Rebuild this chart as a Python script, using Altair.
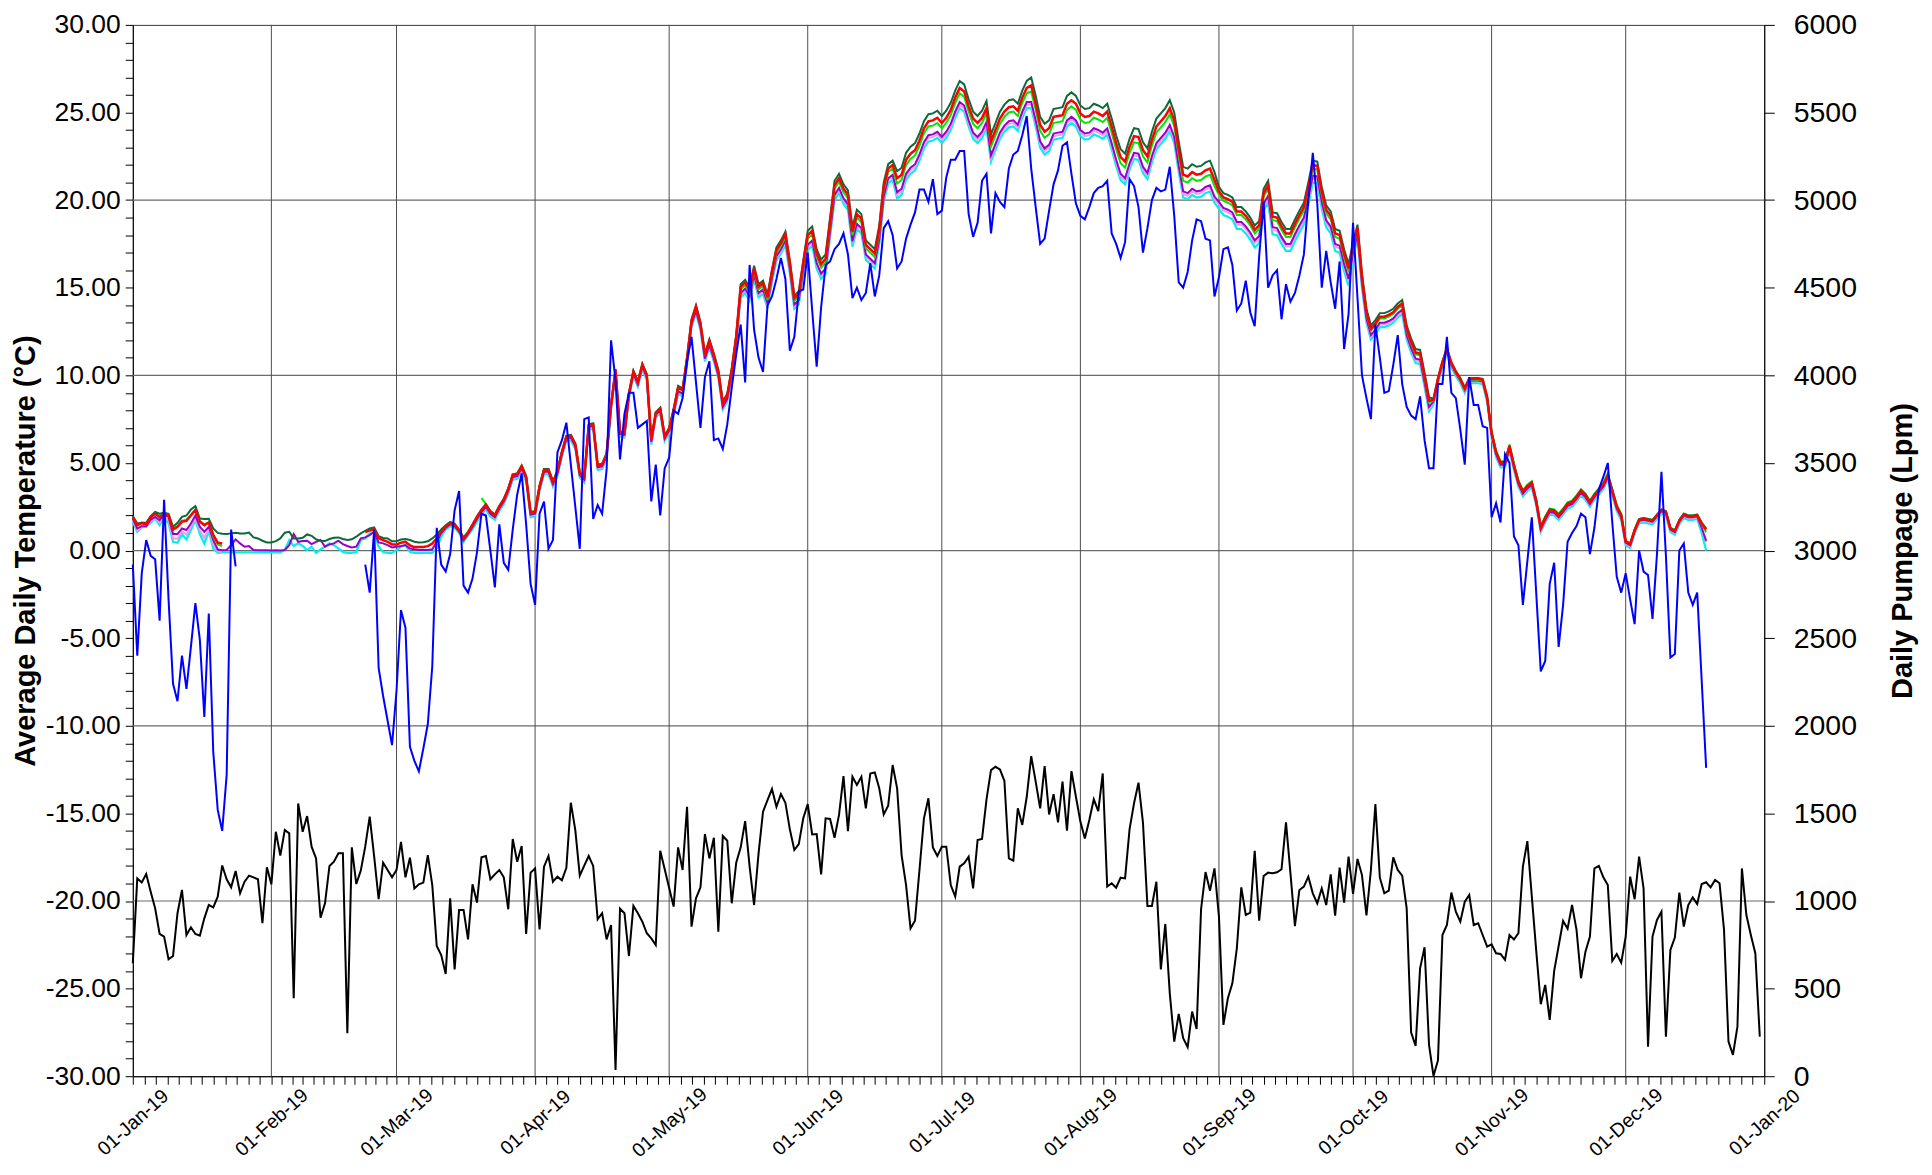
import altair as alt
import pandas as pd

DAYS = pd.date_range("2019-01-01", periods=365, freq="D")
MONTH_STARTS = pd.date_range("2019-02-01", periods=11, freq="MS")
GRID_T = [-20, -10, 0, 10, 20]

# ---------------- Air temperature (blue), d0..d352 ----------------
BLUE = [
    -0.8, -6.0, -1.3, 0.6, -0.3, -0.5, -4.0, 2.9, -2.8, -7.6, -8.6, -6.0, -7.9, -5.5, -3.0, -5.1,
    -9.5, -3.6, -11.5, -14.8, -16.0, -12.8, 1.2, -0.9,
] + [None] * 28 + [
    -0.8, -2.4, 1.2, -6.7, -8.3, -9.7, -11.1, -8.0, -3.4, -4.4, -11.2, -12.0, -12.6, -11.3, -9.9, -6.6,
    1.3, -0.8, -1.2, -0.2, 2.3, 3.4, -2.0, -2.4, -1.6, -0.1, 2.1, 2.0, 0.0, -2.1, 1.5, -0.7,
    -1.1, 1.2, 3.2, 4.4, 1.5, -1.9, -3.1, 2.1, 2.8, 0.1, 0.6, 5.6, 6.3, 7.3, 4.9, 2.5,
    0.1, 7.5, 7.6, 1.8, 2.6, 2.1, 4.6, 12.0, 9.7, 5.2,
    7.8, 9.0, 9.0, 7.0, 7.2, 7.4, 2.8, 4.9, 2.0, 4.7,
    5.3, 8.0, 7.8, 8.7, 10.8, 12.2, 9.6, 7.0, 9.9, 10.8,
    6.3, 6.4, 5.8, 7.2, 9.3, 11.2, 12.9, 9.6, 16.3, 12.6,
    11.0, 10.2, 14.0, 14.5, 15.5, 16.7, 15.5, 11.4, 12.2, 14.8,
    14.9, 17.0, 13.7, 10.5, 13.9, 16.3, 16.5, 17.2, 17.5, 18.1,
    16.9, 14.4, 15.0, 14.3, 14.7, 16.4, 14.5, 15.7, 18.4, 18.8,
    18.0, 16.1, 16.5, 17.8, 18.6, 19.3, 20.6, 20.6, 19.9, 21.2,
    19.2, 19.4, 21.3, 22.3, 22.3, 22.8, 22.8, 19.2, 17.9, 18.7,
    21.1, 21.5, 18.1, 20.4, 19.9, 19.6, 21.8, 22.6, 22.8, 23.7,
    24.8, 21.8, 19.6, 17.5, 17.8, 19.4, 20.9, 21.7, 23.1, 23.3,
    21.5, 19.8, 19.1, 18.9, 19.6, 20.4, 20.7, 20.8, 21.1, 18.1,
    17.5, 16.7, 17.6, 21.2, 20.8, 19.6, 17.0, 18.4, 20.0, 20.7,
    20.5, 20.6, 21.9, 19.1, 15.3, 15.0, 15.9, 17.7, 18.9, 18.8,
    17.8, 17.7, 14.5, 15.6, 17.2, 17.3, 16.3, 13.7, 14.1, 15.4,
    13.6, 12.8, 16.8, 19.9, 15.0, 15.7, 16.0, 13.2, 15.2, 14.2,
    14.7, 15.7, 16.9, 20.0, 22.7, 19.8, 15.0, 17.1, 15.3, 13.8,
    16.5, 11.5, 13.5, 18.7, 14.4, 10.0, 8.7, 7.5, 12.9, 11.0,
    9.0, 9.1, 10.6, 12.3, 9.5, 8.2, 7.7, 7.5, 8.8, 6.3,
    4.7, 4.7, 9.5, 9.5, 12.2, 9.0, 8.7, 6.9, 4.9, 9.9,
    8.3, 8.3, 7.1, 7.0, 1.9, 2.7, 1.6, 5.5, 5.0, 0.8,
    0.3, -3.1, -0.6, 1.9, -2.5, -6.9, -6.3, -1.9, -0.7, -5.5,
    -3.1, 0.5, 1.0, 1.4, 2.1, 1.9, -0.2, 1.3, 3.5, 4.2,
    5.0, 1.6, -1.5, -2.4, -1.3, -2.8, -4.2, 0.0, -1.2, -1.4,
    -3.9, -0.2, 4.5, -0.3, -6.1, -5.9, 0.0, 0.4, -2.4, -3.1,
    -2.4, -7.4, -12.4,
]

# ---------------- Water temperature series ----------------
RED = [
    1.9, 1.45, 1.55, 1.5, 1.9, 2.1, 1.9, 2.1, 2.0, 1.2, 1.35, 1.65, 1.7, 2.0, 2.3, 1.65, 1.45, 1.6, 0.9, 0.45, 0.4,
] + [None] * 31 + [
    1.05, 1.15, 1.2, 0.7, 0.6, 0.5, 0.35, 0.35, 0.45, 0.5, 0.3, 0.2, 0.2, 0.2, 0.25, 0.4, 0.7, 1.05, 1.35, 1.55,
    1.45, 1.15, 0.65, 1.0,
    1.45, 1.9, 2.3, 2.6, 2.2, 2.0, 2.5, 2.9, 3.5, 4.3, 4.35, 4.8, 4.2, 2.15, 2.2, 3.65, 4.6, 4.6, 3.9, 4.5,
    5.6, 6.5, 6.55, 6.05, 4.4, 4.15, 7.15, 7.2, 4.85, 4.9, 5.5, 8.3, 10.3, 6.75, 6.7, 8.95, 10.2, 9.6, 10.6, 10.0,
    6.3, 7.85, 8.1, 6.5, 6.95,
    8.0, 9.3, 9.15, 10.95, 13.1, 13.9, 12.95, 11.15, 11.95, 11.15, 10.2, 8.4, 8.85, 10.3, 12.2,
    15.05, 15.3, 14.85, 16.1, 15.05, 15.25, 14.45, 15.9, 17.15, 17.55, 18.05, 16.4, 14.4, 14.65, 16.4,
    18.0, 18.25, 16.95, 16.35, 16.65, 18.75, 20.85, 21.25, 20.65, 20.3, 18.2, 19.2, 18.95, 17.45, 17.2, 16.95,
    18.3, 20.75, 21.8, 22.0,
    21.25, 21.45, 22.3, 22.65, 22.85, 23.4, 24.1, 24.5, 24.55, 24.7, 24.4, 24.7, 25.15, 25.85, 26.4, 26.2,
    25.35, 24.65, 24.4, 24.7, 25.25, 23.35, 24.0, 24.65, 25.05, 25.3, 25.35, 25.1, 25.85, 26.4,
    26.55, 25.5, 24.3, 23.9, 24.1, 24.75, 24.8, 24.85, 25.5, 25.7, 25.5, 24.95, 24.75, 24.8, 25.05, 24.95,
    24.8, 25.05, 24.2, 23.25, 22.45, 22.2, 23.05, 23.65, 23.6, 22.85, 22.5, 23.45, 24.2, 24.5, 24.8, 25.25,
    24.55, 22.9, 21.45, 21.35, 21.6, 21.45, 21.5, 21.7, 21.8, 21.15,
    20.5, 20.15, 20.05, 19.9, 19.35, 19.35, 19.1, 18.75, 18.3, 18.55, 20.4, 20.85, 19.05, 19.0, 18.5, 18.1,
    18.1, 18.65, 19.15, 19.6, 20.75, 22.0, 21.95, 20.5, 19.45, 19.1, 18.1, 18.0, 16.95, 16.1,
    17.35, 18.4, 15.6, 13.6, 12.65, 12.95, 13.35, 13.35, 13.45, 13.6, 13.9, 14.1, 12.65, 11.9, 11.3, 11.25,
    9.95, 8.55,
    8.6, 9.8, 10.75, 11.5, 10.7, 10.2, 9.8, 9.25, 9.8, 9.8, 9.8, 9.75, 8.75,
    6.7, 5.6, 5.0, 5.0, 5.95, 4.85, 3.9, 3.35, 3.65, 3.85, 2.8, 1.3, 1.85, 2.3, 2.25, 2.0, 2.3, 2.65, 2.75, 3.05,
    3.4, 3.15, 2.75, 3.15, 3.45, 3.75, 4.3, 3.4, 2.5, 2.0,
    0.5, 0.35, 1.15, 1.75, 1.8, 1.75, 1.7, 2.0, 2.3, 2.2, 1.25, 1.1, 1.7, 2.05, 1.95, 1.95, 2.0, 1.55, 1.2,
]

DKGREEN = [
    1.97, 1.54, 1.58, 1.58, 1.97, 2.2, 2.1, 2.15, 2.1, 1.36, 1.58, 1.92, 2.0, 2.34, 2.53, 1.83, 1.8, 1.81, 1.26, 1.01, 0.96,
    0.94, 0.98, 1.02, 0.98, 0.98, 1.03, 0.75, 0.69, 0.56, 0.46,
    0.46, 0.54, 0.69, 1.02, 1.07, 0.69, 0.69, 0.73, 0.92, 0.84,
    0.64, 0.56, 0.54, 0.66, 0.73, 0.75, 0.66, 0.6, 0.64, 0.79,
    0.98, 1.13, 1.26, 1.32, 0.82, 0.72, 0.69, 0.53, 0.53, 0.63,
    0.66, 0.6, 0.5, 0.46, 0.48, 0.53, 0.69, 0.91, 1.2, 1.45,
    1.64, 1.54, 1.2, 0.75, 1.07,
    1.5, 1.95, 2.35, 2.65, 2.25, 2.05, 2.55, 2.95, 3.55, 4.35, 4.4, 4.85, 4.25, 2.2, 2.25, 3.7, 4.65, 4.65, 3.95, 4.55,
    5.65, 6.55, 6.6, 6.1, 4.45, 4.2, 7.2, 7.25, 4.9, 4.95, 5.55, 8.35, 10.35, 6.8, 6.75, 9.0, 10.25, 9.65, 10.65, 10.05,
    6.35, 7.9, 8.15, 6.55, 7.0,
    8.1, 9.4, 9.25, 11.05, 13.2, 14.0, 13.05, 11.25, 12.05, 11.25, 10.3, 8.5, 8.95, 10.4, 12.3,
    15.2, 15.45, 15.0, 16.25, 15.2, 15.4, 14.6, 16.05, 17.3, 17.7, 18.2, 16.55, 14.55, 14.8, 16.55,
    18.25, 18.5, 17.2, 16.6, 16.9, 19.0, 21.1, 21.5, 20.9, 20.55, 18.45, 19.45, 19.2, 17.7, 17.45, 17.2,
    18.55, 21.0, 22.05, 22.25,
    21.65, 21.85, 22.7, 23.05, 23.25, 23.8, 24.5, 24.9, 24.95, 25.1, 24.8, 25.1, 25.55, 26.25, 26.8, 26.6,
    25.75, 25.05, 24.8, 25.1, 25.65, 23.75, 24.4, 25.05, 25.45, 25.7, 25.75, 25.5, 26.25, 26.8,
    27.0, 25.95, 24.75, 24.35, 24.55, 25.2, 25.25, 25.3, 25.95, 26.15, 25.95, 25.4, 25.2, 25.25, 25.5, 25.4,
    25.25, 25.5, 24.65, 23.7, 22.9, 22.65, 23.5, 24.1, 24.05, 23.3, 22.95, 23.9, 24.65, 24.95, 25.25, 25.7,
    25.0, 23.35, 21.9, 21.8, 22.05, 21.9, 21.95, 22.15, 22.25, 21.6,
    20.75, 20.4, 20.3, 20.15, 19.6, 19.6, 19.35, 19.0, 18.55, 18.8, 20.65, 21.1, 19.3, 19.25, 18.75, 18.35,
    18.35, 18.9, 19.4, 19.85, 21.0, 22.25, 22.2, 20.75, 19.7, 19.35, 18.35, 18.25, 17.2, 16.35,
    17.55, 18.6, 15.8, 13.8, 12.85, 13.15, 13.55, 13.55, 13.65, 13.8, 14.1, 14.3, 12.85, 12.1, 11.5, 11.45,
    10.15, 8.75,
    8.65, 9.85, 10.8, 11.55, 10.75, 10.25, 9.85, 9.3, 9.85, 9.85, 9.85, 9.8, 8.8,
    6.75, 5.65, 5.05, 5.05, 6.0, 4.9, 3.95, 3.4, 3.7, 3.9, 2.85, 1.35, 1.9, 2.35, 2.3, 2.05, 2.35, 2.7, 2.8, 3.1,
    3.45, 3.2, 2.8, 3.2, 3.5, 3.8, 4.35, 3.45, 2.55, 2.05,
    0.55, 0.4, 1.2, 1.8, 1.85, 1.8, 1.75, 2.05, 2.35, 2.25, 1.3, 1.15, 1.75, 2.1, 2.0, 2.0, 2.05, 1.6, 1.25,
]

LIME = [
    1.95, 1.5, 1.6, 1.55, 1.95, 2.15, 1.95, 2.15, 2.05, 1.25, 1.4, 1.7, 1.75, 2.05, 2.35, 1.7, 1.5, 1.6, 0.8, 0.35, 0.25,
] + [None] * 57 + [
    3.0, 2.65, 2.25, 2.05, 2.55, 2.95, 3.55, 4.35, 4.4, 4.85, 4.25, 2.2, 2.25, 3.7, 4.65, 4.65, 3.95, 4.55,
    5.65, 6.55, 6.6, 6.1, 4.45, 4.2, 7.2, 7.25, 4.9, 4.95, 5.55, 8.35, 10.35, 6.8, 6.75, 9.0, 10.25, 9.65, 10.65, 10.05,
    6.35, 7.9, 8.15, 6.55, 7.0,
    8.0, 9.3, 9.15, 10.95, 13.1, 13.9, 12.95, 11.15, 11.95, 11.15, 10.2, 8.4, 8.85, 10.3, 12.2,
    14.9, 15.15, 14.7, 15.95, 14.9, 15.1, 14.3, 15.75, 17.0, 17.4, 17.9, 16.25, 14.25, 14.5, 16.25,
    17.8, 18.05, 16.75, 16.15, 16.45, 18.55, 20.65, 21.05, 20.45, 20.1, 18.0, 19.0, 18.75, 17.25, 17.0, 16.75,
    18.1, 20.55, 21.6, 21.8,
    20.95, 21.15, 22.0, 22.35, 22.55, 23.1, 23.8, 24.2, 24.25, 24.4, 24.1, 24.4, 24.85, 25.55, 26.1, 25.9,
    25.05, 24.35, 24.1, 24.4, 24.95, 23.05, 23.7, 24.35, 24.75, 25.0, 25.05, 24.8, 25.55, 26.1,
    26.2, 25.15, 23.95, 23.55, 23.75, 24.4, 24.45, 24.5, 25.15, 25.35, 25.15, 24.6, 24.4, 24.45, 24.7, 24.6,
    24.45, 24.7, 23.85, 22.9, 22.1, 21.85, 22.7, 23.3, 23.25, 22.5, 22.15, 23.1, 23.85, 24.15, 24.45, 24.9,
    24.2, 22.55, 21.1, 21.0, 21.25, 21.1, 21.15, 21.35, 21.45, 20.8,
    20.3, 19.95, 19.85, 19.7, 19.15, 19.15, 18.9, 18.55, 18.1, 18.35, 20.2, 20.65, 18.85, 18.8, 18.3, 17.9,
    17.9, 18.45, 18.95, 19.4, 20.55, 21.8, 21.75, 20.3, 19.25, 18.9, 17.9, 17.8, 16.75, 15.9,
    17.25, 18.3, 15.5, 13.5, 12.55, 12.85, 13.25, 13.25, 13.35, 13.5, 13.8, 14.0, 12.55, 11.8, 11.2, 11.15,
    9.85, 8.45,
    8.55, 9.75, 10.7, 11.45, 10.65, 10.15, 9.75, 9.2, 9.75, 9.75, 9.75, 9.7, 8.7,
    6.8, 5.7, 5.1, 5.1, 6.05, 4.95, 4.0, 3.45, 3.75, 3.95, 2.9, 1.4, 1.95, 2.4, 2.35, 2.1, 2.4, 2.75, 2.85, 3.15,
    3.5, 3.25, 2.85, 3.25, 3.55, 3.85, 4.4, 3.5, 2.6, 2.1,
    0.55, 0.4, 1.2, 1.8, 1.85, 1.8, 1.75, 2.05, 2.35, 2.25, 1.3, 1.15, 1.75, 2.1, 2.0, 2.0, 2.05, 1.5, 1.05,
]

PURPLE = [
    1.83, 1.26, 1.39, 1.39, 1.77, 1.92, 1.73, 2.05, 1.92, 0.94, 0.94, 1.26, 1.17, 1.54, 2.0, 1.36, 1.07, 1.36, 0.6, 0.06, 0.02,
    0.03, 0.31, 0.64, 0.41, 0.22, 0.26, 0.03, 0.02, 0.02, 0.02,
    0.0, 0.02, 0.0, 0.03, 0.31, 0.94, 0.5, 0.54, 0.56, 0.37,
    0.5, 0.6, 0.22, 0.35, 0.41, 0.56, 0.37, 0.26, 0.18, 0.22,
    0.69, 0.75, 0.88, 1.07, 0.46, 0.41, 0.31, 0.18, 0.22, 0.26,
    0.31, 0.12, 0.07, 0.03, 0.03, 0.03, 0.07, 0.5, 1.0, 1.3,
    1.5, 1.4, 1.1, 0.6, 0.95,
    1.35, 1.8, 2.2, 2.5, 2.1, 1.9, 2.4, 2.8, 3.4, 4.2, 4.25, 4.7, 4.1, 2.05, 2.1, 3.55, 4.5, 4.5, 3.8, 4.4,
    5.5, 6.4, 6.45, 5.95, 4.3, 4.05, 7.05, 7.1, 4.75, 4.8, 5.4, 8.2, 10.2, 6.65, 6.6, 8.85, 10.1, 9.5, 10.5, 9.9,
    6.2, 7.75, 8.0, 6.4, 6.85,
    7.8, 9.1, 8.95, 10.75, 12.9, 13.7, 12.75, 10.95, 11.75, 10.95, 10.0, 8.2, 8.65, 10.1, 12.0,
    14.7, 14.95, 14.5, 15.75, 14.7, 14.9, 14.1, 15.55, 16.8, 17.2, 17.7, 16.05, 14.05, 14.3, 16.05,
    17.45, 17.7, 16.4, 15.8, 16.1, 18.2, 20.3, 20.7, 20.1, 19.75, 17.65, 18.65, 18.4, 16.9, 16.65, 16.4,
    17.75, 20.2, 21.25, 21.45,
    20.45, 20.65, 21.5, 21.85, 22.05, 22.6, 23.3, 23.7, 23.75, 23.9, 23.6, 23.9, 24.35, 25.05, 25.6, 25.4,
    24.55, 23.85, 23.6, 23.9, 24.45, 22.55, 23.2, 23.85, 24.25, 24.5, 24.55, 24.3, 25.05, 25.6,
    25.6, 24.55, 23.35, 22.95, 23.15, 23.8, 23.85, 23.9, 24.55, 24.75, 24.55, 24.0, 23.8, 23.85, 24.1, 24.0,
    23.85, 24.1, 23.25, 22.3, 21.5, 21.25, 22.1, 22.7, 22.65, 21.9, 21.55, 22.5, 23.25, 23.55, 23.85, 24.3,
    23.6, 21.95, 20.5, 20.4, 20.65, 20.5, 20.55, 20.75, 20.85, 20.2,
    19.9, 19.55, 19.45, 19.3, 18.75, 18.75, 18.5, 18.15, 17.7, 17.95, 19.8, 20.25, 18.45, 18.4, 17.9, 17.5,
    17.5, 18.05, 18.55, 19.0, 20.15, 21.4, 21.35, 19.9, 18.85, 18.5, 17.5, 17.4, 16.35, 15.5,
    17.0, 18.05, 15.25, 13.25, 12.3, 12.6, 13.0, 13.0, 13.1, 13.25, 13.55, 13.75, 12.3, 11.55, 10.95, 10.9,
    9.6, 8.2,
    8.5, 9.7, 10.65, 11.4, 10.6, 10.1, 9.7, 9.15, 9.7, 9.7, 9.7, 9.65, 8.65,
    6.6, 5.5, 4.9, 4.9, 5.85, 4.75, 3.8, 3.25, 3.55, 3.75, 2.7, 1.2, 1.75, 2.2, 2.15, 1.9, 2.2, 2.55, 2.65, 2.95,
    3.3, 3.05, 2.65, 3.05, 3.35, 3.65, 4.2, 3.3, 2.4, 1.9,
    0.45, 0.3, 1.1, 1.7, 1.75, 1.7, 1.65, 1.95, 2.25, 2.15, 1.2, 1.05, 1.65, 2.0, 1.9, 1.9, 1.95, 1.3, 0.55,
]

PINK = [
    1.75, 1.15, 1.35, 1.37, 1.67, 1.87, 1.6, 1.97, 1.73, 0.7, 0.68, 1.1, 0.9, 1.35, 1.87, 1.15, 0.73, 1.24, 0.35, -0.05, -0.05,
] + [None] * 57 + [
    2.15, 2.45, 2.05, 1.85, 2.35, 2.75, 3.35, 4.15, 4.2, 4.65, 4.05, 2.0, 2.05, 3.5, 4.45, 4.45, 3.75, 4.35,
    5.45, 6.35, 6.4, 5.9, 4.25, 4.0, 7.0, 7.05, 4.7, 4.75, 5.35, 8.15, 10.15, 6.6, 6.55, 8.8, 10.05, 9.45, 10.45, 9.85,
    6.15, 7.7, 7.95, 6.35, 6.8,
    7.75, 9.05, 8.9, 10.7, 12.85, 13.65, 12.7, 10.9, 11.7, 10.9, 9.95, 8.15, 8.6, 10.05, 11.95,
    14.6, 14.85, 14.4, 15.65, 14.6, 14.8, 14.0, 15.45, 16.7, 17.1, 17.6, 15.95, 13.95, 14.2, 15.95,
    17.35, 17.6, 16.3, 15.7, 16.0, 18.1, 20.2, 20.6, 20.0, 19.65, 17.55, 18.55, 18.3, 16.8, 16.55, 16.3,
    17.65, 20.1, 21.15, 21.35,
    20.3, 20.5, 21.35, 21.7, 21.9, 22.45, 23.15, 23.55, 23.6, 23.75, 23.45, 23.75, 24.2, 24.9, 25.45, 25.25,
    24.4, 23.7, 23.45, 23.75, 24.3, 22.4, 23.05, 23.7, 24.1, 24.35, 24.4, 24.15, 24.9, 25.45,
    25.45, 24.4, 23.2, 22.8, 23.0, 23.65, 23.7, 23.75, 24.4, 24.6, 24.4, 23.85, 23.65, 23.7, 23.95, 23.85,
    23.7, 23.95, 23.1, 22.15, 21.35, 21.1, 21.95, 22.55, 22.5, 21.75, 21.4, 22.35, 23.1, 23.4, 23.7, 24.15,
    23.45, 21.8, 20.35, 20.25, 20.5, 20.35, 20.4, 20.6, 20.7, 20.05,
    19.75, 19.4, 19.3, 19.15, 18.6, 18.6, 18.35, 18.0, 17.55, 17.8, 19.65, 20.1, 18.3, 18.25, 17.75, 17.35,
    17.35, 17.9, 18.4, 18.85, 20.0, 21.25, 21.2, 19.75, 18.7, 18.35, 17.35, 17.25, 16.2, 15.35,
    16.9, 17.95, 15.15, 13.15, 12.2, 12.5, 12.9, 12.9, 13.0, 13.15, 13.45, 13.65, 12.2, 11.45, 10.85, 10.8,
    9.5, 8.1,
    8.45, 9.65, 10.6, 11.35, 10.55, 10.05, 9.65, 9.1, 9.65, 9.65, 9.65, 9.6, 8.6,
    6.55, 5.45, 4.85, 4.85, 5.8, 4.7, 3.75, 3.2, 3.5, 3.7, 2.65, 1.15, 1.7, 2.15, 2.1, 1.85, 2.15, 2.5, 2.6, 2.9,
    3.25, 3.0, 2.6, 3.0, 3.3, 3.6, 4.15, 3.25, 2.35, 1.85,
    0.4, 0.25, 1.05, 1.65, 1.7, 1.65, 1.6, 1.9, 2.2, 2.1, 1.15, 1.0, 1.6, 1.95, 1.85, 1.85, 1.9, 1.25, 0.5,
]

CYAN = [
    1.64, 1.07, 1.32, 1.36, 1.58, 1.83, 1.45, 1.89, 1.54, 0.5, 0.44, 0.94, 0.63, 1.17, 1.74, 0.94, 0.4, 1.11, 0.11, -0.13, -0.1,
    -0.1, -0.1, -0.1, -0.1, -0.1, -0.1, -0.1, -0.1, -0.1, -0.1,
    -0.1, -0.1, -0.1, 0.03, 0.6, 0.26, 0.41, 0.26, 0.03, 0.22,
    -0.13, 0.07, 0.22, 0.41, 0.31, 0.12, -0.08, -0.13, -0.13, -0.08,
    0.6, 0.69, 0.98, 1.03, 0.22, -0.08, -0.13, -0.13, 0.03, 0.22,
    0.31, -0.08, -0.13, -0.13, -0.13, -0.13, -0.13, 0.12, 0.79, 1.2,
    1.4, 1.3, 1.0, 0.5, 0.85,
    1.2, 1.65, 2.05, 2.35, 1.95, 1.75, 2.25, 2.65, 3.25, 4.05, 4.1, 4.55, 3.95, 1.9, 1.95, 3.4, 4.35, 4.35, 3.65, 4.25,
    5.35, 6.25, 6.3, 5.8, 4.15, 3.9, 6.9, 6.95, 4.6, 4.65, 5.25, 8.05, 10.05, 6.5, 6.45, 8.7, 9.95, 9.35, 10.35, 9.75,
    6.05, 7.6, 7.85, 6.25, 6.7,
    7.65, 8.95, 8.8, 10.6, 12.75, 13.55, 12.6, 10.8, 11.6, 10.8, 9.85, 8.05, 8.5, 9.95, 11.85,
    14.45, 14.7, 14.25, 15.5, 14.45, 14.65, 13.85, 15.3, 16.55, 16.95, 17.45, 15.8, 13.8, 14.05, 15.8,
    17.15, 17.4, 16.1, 15.5, 15.8, 17.9, 20.0, 20.4, 19.8, 19.45, 17.35, 18.35, 18.1, 16.6, 16.35, 16.1,
    17.45, 19.9, 20.95, 21.15,
    20.1, 20.3, 21.15, 21.5, 21.7, 22.25, 22.95, 23.35, 23.4, 23.55, 23.25, 23.55, 24.0, 24.7, 25.25, 25.05,
    24.2, 23.5, 23.25, 23.55, 24.1, 22.2, 22.85, 23.5, 23.9, 24.15, 24.2, 23.95, 24.7, 25.25,
    25.25, 24.2, 23.0, 22.6, 22.8, 23.45, 23.5, 23.55, 24.2, 24.4, 24.2, 23.65, 23.45, 23.5, 23.75, 23.65,
    23.5, 23.75, 22.9, 21.95, 21.15, 20.9, 21.75, 22.35, 22.3, 21.55, 21.2, 22.15, 22.9, 23.2, 23.5, 23.95,
    23.25, 21.6, 20.15, 20.05, 20.3, 20.15, 20.2, 20.4, 20.5, 19.85,
    19.5, 19.15, 19.05, 18.9, 18.35, 18.35, 18.1, 17.75, 17.3, 17.55, 19.4, 19.85, 18.05, 18.0, 17.5, 17.1,
    17.1, 17.65, 18.15, 18.6, 19.75, 21.0, 20.95, 19.5, 18.45, 18.1, 17.1, 17.0, 15.95, 15.1,
    16.75, 17.8, 15.0, 13.0, 12.05, 12.35, 12.75, 12.75, 12.85, 13.0, 13.3, 13.5, 12.05, 11.3, 10.7, 10.65,
    9.35, 7.95,
    8.35, 9.55, 10.5, 11.25, 10.45, 9.95, 9.55, 9.0, 9.55, 9.55, 9.55, 9.5, 8.5,
    6.45, 5.35, 4.75, 4.75, 5.7, 4.6, 3.65, 3.1, 3.4, 3.6, 2.55, 1.05, 1.6, 2.05, 2.0, 1.75, 2.05, 2.4, 2.5, 2.8,
    3.15, 2.9, 2.5, 2.9, 3.2, 3.5, 4.05, 3.15, 2.25, 1.75,
    0.3, 0.15, 0.95, 1.55, 1.6, 1.55, 1.5, 1.8, 2.1, 2.0, 1.05, 0.9, 1.5, 1.85, 1.75, 1.75, 1.8, 1.0, 0.0,
]

# ---------------- Daily pumpage (black), d0..d364 ----------------
PUMPAGE = [
    645, 1129, 1106, 1154, 1053, 958, 812, 797, 667, 686,
    930, 1063, 806, 850, 812, 802, 901, 977, 964, 1025,
    1203, 1124, 1078, 1171, 1044, 1110, 1145, 1135, 1124, 873,
    1192, 1095, 1395, 1259, 1405, 1386, 445, 1557, 1395, 1485,
    1310, 1243, 905, 987, 1200, 1224, 1272, 1272, 245, 1306,
    1097, 1173, 1310, 1481, 1253, 1010, 1219, 1177, 1135, 1177,
    1337, 1135, 1247, 1072, 1095, 1105, 1262, 1091, 743, 692,
    584, 1015, 610, 949, 949, 781, 1095, 991, 1249, 1257,
    1124, 1152, 1177, 1135, 953, 1354, 1224, 1314, 812, 1162,
    1186, 838, 1196, 1257, 1110, 1139, 1118, 1190, 1561, 1405,
    1145, 1202, 1257, 1200, 896, 930, 781, 863, 36, 956,
    930, 686, 972, 930, 882, 816, 787, 749, 1287, 1181,
    1074, 968, 1306, 1177, 1538, 854, 1015, 1078, 1382, 1243,
    1361, 825, 1371, 1344, 987, 1219, 1306, 1456, 1196, 977,
    1272, 1510, 1576, 1639, 1538, 1610, 1561, 1409, 1291, 1325,
    1472, 1553, 1380, 1382, 1152, 1472, 1468, 1361, 1491, 1713,
    1399, 1709, 1662, 1709, 1529, 1728, 1734, 1643, 1494, 1544,
    1776, 1643, 1262, 1091, 844, 888, 1177, 1472, 1586, 1306,
    1257, 1310, 1310, 1091, 1025, 1196, 1215, 1253, 1072, 1348,
    1354, 1580, 1747, 1766, 1751, 1686, 1243, 1230, 1529, 1434,
    1595, 1827, 1681, 1529, 1770, 1494, 1610, 1449, 1681, 1401,
    1741, 1595, 1453, 1357, 1462, 1580, 1513, 1728, 1082, 1101,
    1076, 1133, 1129, 1409, 1557, 1675, 1447, 972, 972, 1110,
    610, 869, 473, 198, 356, 217, 166, 369, 270, 953,
    1165, 1059, 1186, 911, 293, 445, 530, 730, 1078, 920,
    934, 1287, 888, 1143, 1162, 1158, 1164, 1181, 1449, 1158,
    857, 1063, 1082, 1139, 1044, 987, 1072, 977, 1152, 916,
    1190, 991, 1253, 1040, 1240, 1148, 918, 1177, 1553, 1133,
    1044, 1059, 1249, 1177, 1145, 958, 249, 173, 616, 736,
    179, 2, 90, 806, 863, 1048, 939, 882, 996, 1034,
    863, 873, 806, 740, 753, 702, 698, 664, 806, 781,
    816, 1196, 1342, 1025, 711, 411, 521, 321, 601, 743,
    886, 842, 977, 835, 559, 711, 797, 1186, 1200, 1135,
    1091, 658, 698, 648, 797, 1139, 1010, 1253, 1072, 169,
    797, 892, 939, 226, 721, 791, 1048, 854, 977, 1021,
    983, 1097, 1107, 1078, 1120, 1101, 835, 198, 122, 283,
    1186, 920, 806, 702, 226,
]

for _name, _arr in [("BLUE", BLUE), ("RED", RED), ("DKGREEN", DKGREEN), ("LIME", LIME),
                    ("PURPLE", PURPLE), ("PINK", PINK), ("CYAN", CYAN)]:
    assert len(_arr) == 353, (_name, len(_arr))
assert len(PUMPAGE) == 365, len(PUMPAGE)


def series_frame(values, field):
    rows, seg, gap = [], 0, False
    for day, v in zip(DAYS, values):
        if v is None:
            gap = True
            continue
        if gap and rows:
            seg += 1
        gap = False
        rows.append({"date": day, field: v, "seg": seg})
    return pd.DataFrame(rows)


FONT = "Liberation Sans"

# x axis: 12 ticks per month, labels on the 1st
x_ticks = []
for m in range(1, 13):
    start = pd.Timestamp(2019, m, 1)
    end = pd.Timestamp(2020, 1, 1) if m == 12 else pd.Timestamp(2019, m + 1, 1)
    step = (end - start) / 12
    for k in range(12):
        t = start + k * step
        x_ticks.append(alt.DateTime(year=t.year, month=t.month, date=t.day, hours=t.hour, minutes=t.minute))
x_ticks.append(alt.DateTime(year=2020, month=1, date=1))

x_axis = alt.Axis(
    values=x_ticks,
    labelExpr="(date(datum.value) == 1 && hours(datum.value) == 0) ? timeFormat(datum.value, '%d-%b-%y') : ''",
    labelAngle=-42, labelAlign="center", labelBaseline="middle", labelPadding=38,
    labelFontSize=19.5, labelFlush=False, labelOverlap=False, labelColor="black",
    tickSize=8, tickColor="black", domainColor="black", grid=False, title=None,
)
x_scale = alt.Scale(domain=[alt.DateTime(year=2019, month=1, date=1), alt.DateTime(year=2020, month=1, date=1)], nice=False)
X = alt.X("date:T", scale=x_scale, axis=x_axis)

y_axis = alt.Axis(
    values=list(range(-30, 31)), orient="left",
    labelExpr="datum.value % 5 == 0 ? replace(format(datum.value, '.2f'), '\u2212', '-') : ''",
    labelFontSize=26.5, labelPadding=5, labelOverlap=False, labelFlush=False, labelColor="black",
    tickSize=7.6, tickColor="black", domainColor="black", grid=False,
    title="Average Daily Temperature (°C)", titleFontSize=29, titleFontWeight="bold",
    titlePadding=4.5, titleColor="black",
)
Y = alt.Y("T:Q", scale=alt.Scale(domain=[-30, 30], nice=False, zero=False), axis=y_axis)

p_axis = alt.Axis(
    values=list(range(0, 6001, 500)), orient="right", format="d",
    labelFontSize=28.5, labelPadding=19, labelOverlap=False, labelFlush=False, labelColor="black",
    tickSize=10, tickColor="black", domainColor="black", grid=False,
    title="Daily Pumpage (Lpm)", titleFontSize=29, titleFontWeight="bold",
    titleAngle=270, titleBaseline="top", titlePadding=32, titleColor="black",
)
P = alt.Y("P:Q", scale=alt.Scale(domain=[0, 6000], nice=False), axis=p_axis)

hgrid = alt.Chart(pd.DataFrame({"T": GRID_T})).mark_rule(color="#6b6b6b", strokeWidth=1.2).encode(y=Y)
vgrid = alt.Chart(pd.DataFrame({"date": MONTH_STARTS})).mark_rule(color="#4d4d4d", strokeWidth=1).encode(x=X)


def temp_line(values, color, width):
    return alt.Chart(series_frame(values, "T")).mark_line(color=color, strokeWidth=width).encode(
        x=X, y=Y, detail="seg:N"
    )


temp_layers = alt.layer(
    hgrid, vgrid,
    temp_line(CYAN, "#00f0f0", 2.2),
    temp_line(PINK, "#ec9de6", 2.0),
    temp_line(PURPLE, "#9a00cc", 2.0),
    temp_line(LIME, "#00e600", 2.0),
    temp_line(DKGREEN, "#0b6a38", 2.0),
    temp_line(RED, "#ff0000", 2.5),
    temp_line(BLUE, "#0000ff", 2.0),
)

pump_df = pd.DataFrame({"date": DAYS, "P": PUMPAGE})
pump_layer = alt.Chart(pump_df).mark_line(color="black", strokeWidth=2).encode(x=X, y=P)

chart = (
    alt.layer(temp_layers, pump_layer)
    .resolve_scale(y="independent")
    .properties(
        width=1634, height=1053,
        autosize=alt.AutoSizeParams(type="none"),
        padding={"left": 125, "top": 16, "right": 160, "bottom": 85},
    )
    .configure(font=FONT)
    .configure_view(stroke="#3a3a3a", strokeWidth=1)
)

chart.save("out.html", embed_options={"renderer": "svg", "actions": False})
